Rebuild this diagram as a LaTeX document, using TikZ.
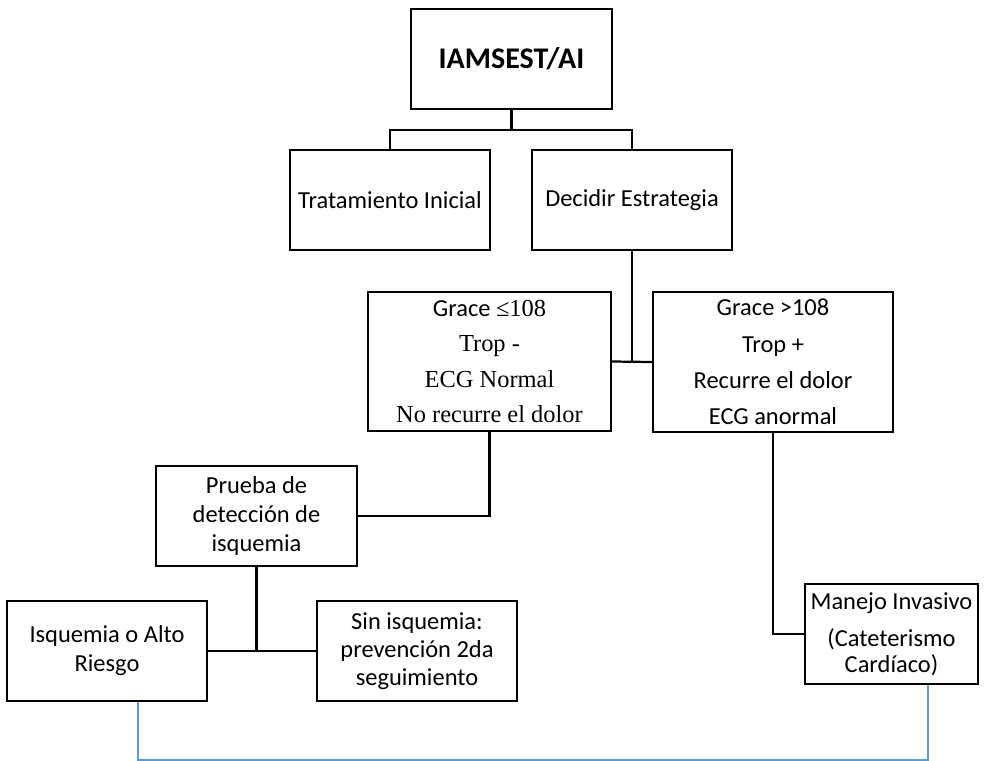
\documentclass[tikz,border=0pt]{standalone}
\usepackage{fontspec}
\setmainfont{Carlito}
\newfontfamily\tnr{Liberation Serif}
\usetikzlibrary{calc}
\def\u{0.45pt}
\tikzset{
  box/.style={draw=black, line width=1pt, rectangle, inner sep=0pt, align=center,
    font=\fontsize{11}{13}\selectfont},
  wire/.style={draw=black, line width=1pt},
  link/.style={draw=linkblue, line width=1.2pt},
}
\definecolor{linkblue}{RGB}{91,155,213}
\begin{document}
\begin{tikzpicture}[x=\u, y=-\u]
\useasboundingbox (0,0) rectangle (1000,761);

% boxes
\node[box, minimum width=201*\u, minimum height=100*\u,
      font=\bfseries\fontsize{13.5}{15}\selectfont] (top) at (511.5,59) {IAMSEST/AI};
\node[box, minimum width=200*\u, minimum height=100*\u] (trat) at (390,200) {Tratamiento Inicial};
\node[box, minimum width=200*\u, minimum height=100*\u] (decid) at (632,200) {Decidir Estrategia};
\node[box, minimum width=243*\u, minimum height=139*\u,
      font=\fontsize{11}{15.8}\selectfont] (gle) at (489.5,361.5)
  {Grace {\tnr ≤108}\\{\tnr Trop -}\\{\tnr ECG Normal}\\{\tnr No recurre el dolor}};
\node[box, minimum width=240*\u, minimum height=140*\u,
      font=\fontsize{11}{16.3}\selectfont] (ggt) at (773,362)
  {Grace >108\\Trop +\\Recurre el dolor\\ECG anormal};
\node[box, minimum width=201*\u, minimum height=100*\u] (prueba) at (256.5,516)
  {Prueba de\\detección de\\isquemia};
\node[box, minimum width=200*\u, minimum height=100*\u] (isq) at (107,651)
  {Isquemia o Alto\\Riesgo};
\node[box, minimum width=200*\u, minimum height=100*\u, font=\fontsize{11}{12.5}\selectfont] (sin) at (417,651)
  {Sin isquemia:\\prevención 2da\\seguimiento};
\node[box, minimum width=173*\u, minimum height=100*\u, font=\fontsize{11}{11.8}\selectfont] (manejo) at (891.5,634)
  {Manejo Invasivo\\[4.8pt](Cateterismo\\Cardíaco)};

% tree connectors
\draw[wire] (top.south) -- ++(0,20) coordinate (j1);
\draw[wire] (trat.north) |- (j1) -| (decid.north);
\draw[wire] (decid.south) -- (decid.south |- gle.east);
\draw[wire] (gle.east) -- (ggt.west);
\draw[wire] (gle.south) |- (prueba.east);
\draw[wire] (prueba.south) -- (prueba.south |- isq.east);
\draw[wire] (isq.east) -- (sin.west);
\draw[wire] (ggt.south) |- (manejo.west);

% link between the two final branches
\draw[link] ([xshift=132*\u]isq.south west) -- ++(0,58) -| ([xshift=124*\u]manejo.south west);
\end{tikzpicture}
\end{document}
